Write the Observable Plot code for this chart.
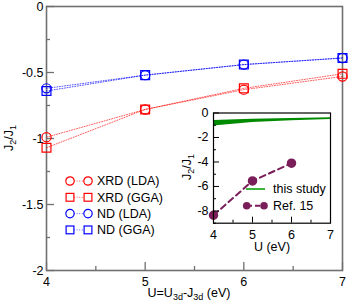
<!DOCTYPE html>
<html><head><meta charset="utf-8">
<script src="https://cdn.jsdelivr.net/npm/d3@7"></script>
<script src="https://cdn.jsdelivr.net/npm/@observablehq/plot@0.6"></script>
<style>
body{margin:0;background:#fff;}
#wrap{position:relative;width:349px;height:305px;font-family:"Liberation Sans",Arial,sans-serif;}
#wrap svg{position:absolute;overflow:visible;background:transparent;}
</style></head><body><div id="wrap"></div>
<script>
// ---- main chart data ----
const U = [4, 5, 6, 7];
const xrdLDA = [-0.99, -0.78, -0.63, -0.53];
const xrdGGA = [-1.07, -0.78, -0.62, -0.51];
const ndLDA = [-0.62, -0.52, -0.44, -0.39];
const ndGGA = [-0.64, -0.52, -0.44, -0.39];
const seriesNames = ["XRD (LDA)", "XRD (GGA)", "ND (LDA)", "ND (GGA)"];
const seriesValues = [xrdLDA, xrdGGA, ndLDA, ndGGA];
const seriesColors = ["#ff0000", "#ff0000", "#0000ff", "#0000ff"];
const seriesSymbols = ["circle", "square", "circle", "square"];
const xTicks = [4, 5, 6, 7];
const xMinor = [4.5, 5.5, 6.5];
const yTicks = [0, -0.5, -1, -1.5, -2];
const yMinor = [-0.25, -0.75, -1.25, -1.75];
// ---- inset data ----
const bandU = [4, 5, 6, 7];
const bandLow = [-1.07, -0.78, -0.63, -0.53];
const bandHigh = [-0.62, -0.52, -0.44, -0.39];
const refU = [4, 5, 6];
const refJ = [-8.35, -5.55, -4.1];
const insetXTicks = [4, 5, 6, 7];
const insetXMinor = [4.5, 5.5, 6.5];
const insetYTicks = [0, -2, -4, -6, -8];
const insetYMinor = [-1, -3, -5, -7, -9];
const insetLegend = ["this study", "Ref. 15"];

const FONT = '"Liberation Sans", Arial, sans-serif';
const wrap = d3.select("#wrap");

// ---------- main plot ----------
const W = 349, H = 305, mL = 46, mR = 7, mT = 6, mB = 35;
const iw = W - mL - mR, ih = H - mT - mB;
const axisGray = "#707070";
const DOTS = "1,1.6";
const marks = [
  Plot.frame({stroke: axisGray, strokeWidth: 1.6}),
  Plot.tickY(yTicks, {y: d => d, stroke: axisGray, strokeWidth: 1.3, insetRight: iw - 8}),
  Plot.tickY(yMinor, {y: d => d, stroke: axisGray, strokeWidth: 1.3, insetRight: iw - 4}),
  Plot.tickX(xTicks, {x: d => d, stroke: axisGray, strokeWidth: 1.3, insetTop: ih - 8}),
  Plot.tickX(xMinor, {x: d => d, stroke: axisGray, strokeWidth: 1.3, insetTop: ih - 4}),
  Plot.axisX(xTicks, {tickSize: 0, tickPadding: 7, label: null, tickFormat: d => String(d), fontSize: 12.5, fill: "#000"}),
  Plot.axisY(yTicks, {tickSize: 0, tickPadding: 3, label: null, tickFormat: d => String(d), fontSize: 12.5, fill: "#000"})
];
seriesNames.forEach((name, i) => {
  const vals = seriesValues[i];
  marks.push(Plot.line(U, {x: d => d, y: (d, j) => vals[j], stroke: seriesColors[i], strokeWidth: 1, strokeDasharray: DOTS, strokeOpacity: 0.65}));
  marks.push(Plot.dot(U, {x: d => d, y: (d, j) => vals[j], symbol: seriesSymbols[i], stroke: seriesColors[i], fill: "none", strokeWidth: 1.2, r: seriesSymbols[i] === "square" ? 5 : 4.6}));
});
const main = Plot.plot({
  width: W, height: H, marginLeft: mL, marginRight: mR, marginTop: mT, marginBottom: mB,
  style: {fontFamily: FONT, fontSize: "12px", color: "#000", background: "transparent"},
  x: {domain: [4, 7]}, y: {domain: [-2, 0]},
  marks
});
main.style.left = "0px"; main.style.top = "0px";
wrap.node().appendChild(main);
const ms = d3.select(main);

// axis labels with subscripts
const yl = ms.append("text").attr("transform", "translate(13,138) rotate(-90)")
  .attr("text-anchor", "middle").attr("font-size", 12.5).attr("font-family", FONT).attr("fill", "#000");
yl.append("tspan").text("J");
yl.append("tspan").text("2").attr("font-size", 9).attr("dy", 3);
yl.append("tspan").text("/J").attr("dy", -3);
yl.append("tspan").text("1").attr("font-size", 9).attr("dy", 3);

const xl = ms.append("text").attr("x", 189).attr("y", 297)
  .attr("text-anchor", "middle").attr("font-size", 12.5).attr("font-family", FONT).attr("fill", "#000");
xl.append("tspan").text("U=U");
xl.append("tspan").text("3d").attr("font-size", 9).attr("dy", 3);
xl.append("tspan").text("-J").attr("dy", -3);
xl.append("tspan").text("3d").attr("font-size", 9).attr("dy", 3);
xl.append("tspan").text(" (eV)").attr("dy", -3);

// main legend
const lg = ms.append("g").attr("font-family", FONT).attr("font-size", 12.5).attr("text-anchor", "start");
seriesNames.forEach((name, i) => {
  const y = 181 + i * 16.3;
  const g = lg.append("g").attr("transform", `translate(0,${y})`);
  g.append("line").attr("x1", 74).attr("x2", 84).attr("y1", 0).attr("y2", 0)
    .attr("stroke", seriesColors[i]).attr("stroke-dasharray", DOTS).attr("stroke-opacity", 0.65);
  [70, 88].forEach(cx => {
    if (seriesSymbols[i] === "circle")
      g.append("circle").attr("cx", cx).attr("cy", 0).attr("r", 4.2).attr("fill", "none").attr("stroke", seriesColors[i]).attr("stroke-width", 1.2);
    else
      g.append("rect").attr("x", cx - 3.9).attr("y", -3.9).attr("width", 7.8).attr("height", 7.8).attr("fill", "none").attr("stroke", seriesColors[i]).attr("stroke-width", 1.2);
  });
  g.append("text").attr("x", 97).attr("y", 0).attr("dy", "0.35em").attr("text-anchor", "start").attr("fill", "#000").text(name);
});

// ---------- inset ----------
const IL = 160, IT = 100, IW = 180, IH = 160;
const imL = 53, imR = 10, imT = 12.5, imB = 37.3;
const iiw = IW - imL - imR, iih = IH - imT - imB;
const purple = "#7a1e5a";
const inset = Plot.plot({
  width: IW, height: IH, marginLeft: imL, marginRight: imR, marginTop: imT, marginBottom: imB,
  style: {fontFamily: FONT, fontSize: "12px", color: "#000", background: "transparent"},
  x: {domain: [4, 7]}, y: {domain: [-9, 0]},
  marks: [
    Plot.areaY(bandU, {x: d => d, y1: (d, i) => bandLow[i], y2: (d, i) => bandHigh[i], fill: "#008a00"}),
    Plot.line(refU, {x: d => d, y: (d, i) => refJ[i], stroke: purple, strokeWidth: 2, strokeDasharray: "6,4"}),
    Plot.dot(refU, {x: d => d, y: (d, i) => refJ[i], r: 4, fill: purple, stroke: purple}),
    Plot.tickY(insetYTicks, {y: d => d, stroke: "#000", insetRight: iiw - 6}),
    Plot.tickY(insetYMinor, {y: d => d, stroke: "#000", insetRight: iiw - 3}),
    Plot.tickX(insetXTicks, {x: d => d, stroke: "#000", insetTop: iih - 6}),
    Plot.tickX(insetXMinor, {x: d => d, stroke: "#000", insetTop: iih - 3}),
    Plot.frame({stroke: "#000", strokeWidth: 1.2}),
    Plot.axisX(insetXTicks, {tickSize: 0, tickPadding: 7, label: null, tickFormat: d => String(d), fontSize: 12.5, fill: "#000"}),
    Plot.axisY(insetYTicks, {tickSize: 0, tickPadding: 5, label: null, tickFormat: d => String(d), fontSize: 12.5, fill: "#000"})
  ]
});
inset.style.left = IL + "px"; inset.style.top = IT + "px";
wrap.node().appendChild(inset);
const is = d3.select(inset);

const iyl = is.append("text").attr("transform", "translate(31,67) rotate(-90)")
  .attr("text-anchor", "middle").attr("font-size", 12.5).attr("font-family", FONT).attr("fill", "#000");
iyl.append("tspan").text("J");
iyl.append("tspan").text("2").attr("font-size", 9).attr("dy", 3);
iyl.append("tspan").text("/J").attr("dy", -3);
iyl.append("tspan").text("1").attr("font-size", 9).attr("dy", 3);

is.append("text").attr("x", 112).attr("y", 151).attr("text-anchor", "middle")
  .attr("font-size", 12.5).attr("font-family", FONT).attr("fill", "#000").text("U (eV)");

const ilg = is.append("g").attr("font-family", FONT).attr("font-size", 12.5).attr("text-anchor", "start");
const g1 = ilg.append("g").attr("transform", "translate(0,89)");
g1.append("line").attr("x1", 86).attr("x2", 105).attr("stroke", "#3cb43c").attr("stroke-width", 2);
g1.append("text").attr("x", 113).attr("dy", "0.35em").attr("text-anchor", "start").attr("fill", "#000").text(insetLegend[0]);
const g2 = ilg.append("g").attr("transform", "translate(0,105.7)");
g2.append("line").attr("x1", 87).attr("x2", 104).attr("stroke", purple).attr("stroke-width", 2).attr("stroke-dasharray", "5,3");
[86.7, 104].forEach(cx => g2.append("circle").attr("cx", cx).attr("r", 3.8).attr("fill", purple));
g2.append("text").attr("x", 113).attr("dy", "0.35em").attr("text-anchor", "start").attr("fill", "#000").text(insetLegend[1]);
</script></body></html>
